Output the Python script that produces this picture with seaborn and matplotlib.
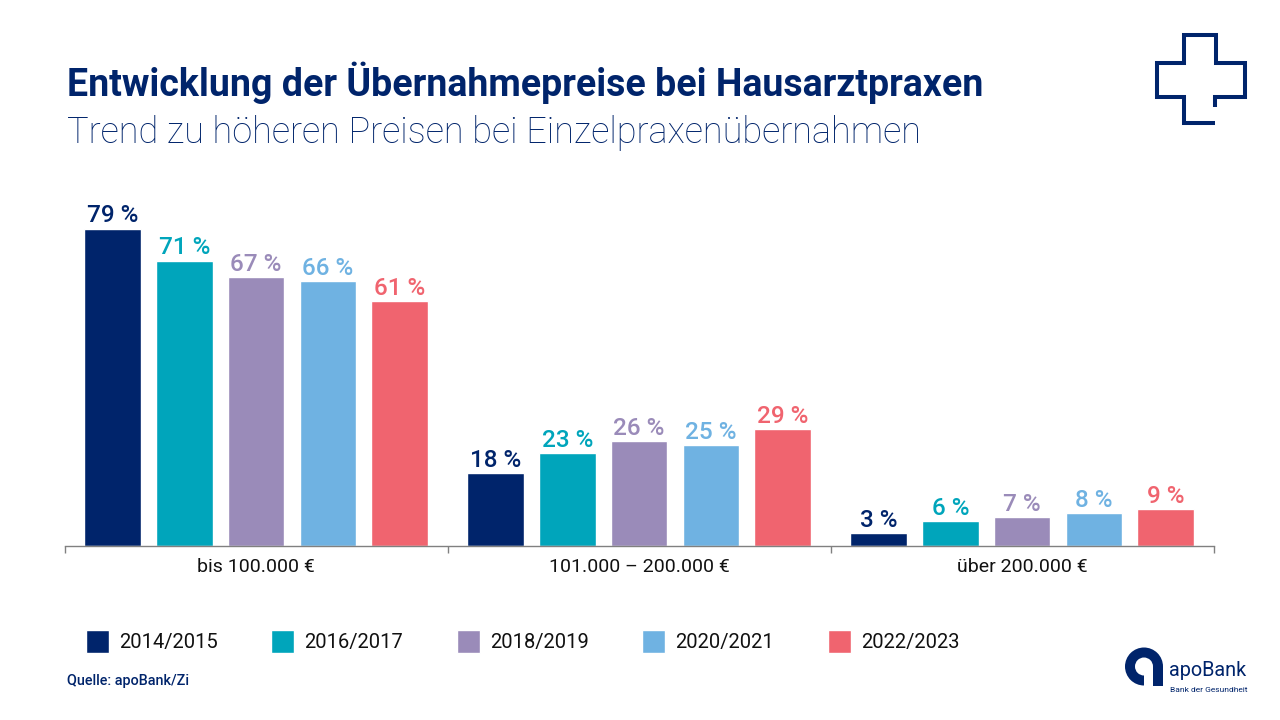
import numpy as np
import pandas as pd
import matplotlib
matplotlib.use("Agg")
import matplotlib.pyplot as plt
from matplotlib.patches import Patch, Rectangle, Circle
import seaborn as sns

# Daten
categories = ["bis 100.000 €", "101.000 – 200.000 €", "über 200.000 €"]
years = ["2014/2015", "2016/2017", "2018/2019", "2020/2021", "2022/2023"]
colors = ["#00246B", "#00A5BB", "#9A8BB9", "#6FB2E2", "#F0646F"]
v_2014 = [79, 18, 3]
v_2016 = [71, 23, 6]
v_2018 = [67, 26, 7]
v_2020 = [66, 25, 8]
v_2022 = [61, 29, 9]

NAVY = "#00246B"
W, H = 1280, 720

sns.set_theme(style="white")
plt.rcParams["font.family"] = ["Roboto", "DejaVu Sans"]

df = pd.DataFrame({"Kategorie": categories * 5,
                   "Jahr": np.repeat(years, 3),
                   "Anteil": v_2014 + v_2016 + v_2018 + v_2020 + v_2022})

fig = plt.figure(figsize=(W / 100, H / 100), dpi=100, facecolor="white")
# Achse in Pixeln: x 65..1214, Nulllinie bei y=546, 4 px je Prozent
ax = fig.add_axes([64.6 / W, 1 - 545.5 / H, 1149 / W, 360.8 / H])

sns.barplot(data=df, x="Kategorie", y="Anteil", hue="Jahr", order=categories,
            hue_order=years, palette=colors, width=0.9367, gap=0.215,
            saturation=1, legend=False, ax=ax)
ax.set_xlim(-0.5, 2.5)
ax.set_ylim(0, 90)
ax.set_xlabel("")
ax.set_ylabel("")
ax.set_yticks([])
sns.despine(ax=ax, left=True)
ax.spines["bottom"].set_color("#808080")
ax.spines["bottom"].set_linewidth(1.0)

# Gruppentrenner als Ticks, Beschriftung ohne Tick
ax.set_xticks([0, 1, 2])
ax.set_xticklabels(categories, fontsize=14, color="#111111")
ax.tick_params(axis="x", which="major", length=0, pad=9)
ax.set_xticks([-0.5, 0.5, 1.5, 2.5], minor=True)
ax.tick_params(axis="x", which="minor", length=5, width=1.0, color="#808080", bottom=True)

for cont, col in zip(ax.containers, colors):
    ax.bar_label(cont, fmt="%d %%", color=col, fontsize=17.5, fontweight="medium", padding=1)

# Titel
fig.text(67 / W, 1 - 83 / H, "Entwicklung der Übernahmepreise bei Hausarztpraxen",
         fontsize=27, fontweight="bold", color=NAVY, va="center")
fig.text(67 / W, 1 - 133 / H, "Trend zu höheren Preisen bei Einzelpraxenübernahmen",
         fontsize=26, fontweight="light", color=NAVY, va="center")

# Legende
handles = [Patch(facecolor=c, label=y) for c, y in zip(colors, years)]
fig.legend(handles=handles, loc="center left", bbox_to_anchor=(85.5 / W, 1 - 641.5 / H), ncol=5,
           frameon=False, fontsize=14.5, handlelength=1.15, handleheight=1.4, handletextpad=0.5,
           columnspacing=2.66, borderpad=0, borderaxespad=0, labelcolor="#111111")

fig.text(67 / W, 1 - 681 / H, "Quelle: apoBank/Zi", fontsize=10.4, fontweight="medium",
         color=NAVY, va="center")

# Overlay in Pixelkoordinaten fuer Kreuz und Logo
deco = fig.add_axes([0, 0, 1, 1], facecolor="none")
deco.set_xlim(0, W)
deco.set_ylim(H, 0)
deco.axis("off")
cross_x = [1215, 1215, 1245, 1245, 1216, 1216, 1184, 1184, 1157, 1157, 1184, 1184, 1215]
cross_y = [107, 97, 97, 63, 63, 35, 35, 63, 63, 97, 97, 123, 123]
deco.plot(cross_x, cross_y, color=NAVY, lw=2.9, solid_joinstyle="miter", solid_capstyle="butt")

deco.add_patch(Circle((1144, 666.5), 19, color=NAVY, lw=0))
deco.add_patch(Rectangle((1144, 666.5), 19, 19, color=NAVY, lw=0))
deco.add_patch(Circle((1144, 666.5), 9, color="white", lw=0))
deco.add_patch(Rectangle((1144, 666.5), 9, 20, color="white", lw=0))
deco.text(1169.5, 670, "apoBank", fontsize=14.3, color=NAVY, va="center")
deco.text(1170, 690, "Bank der Gesundheit", fontsize=6, color=NAVY, va="center")

fig.savefig("out.png", dpi=100)
